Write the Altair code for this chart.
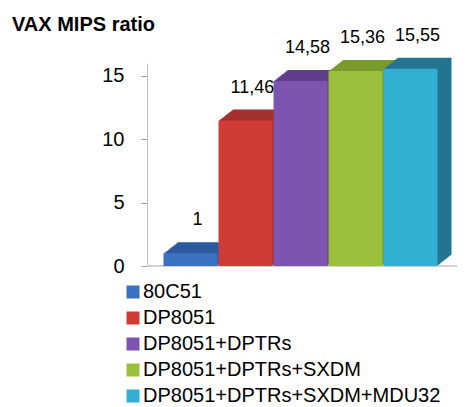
import altair as alt
import pandas as pd

categories = ["80C51", "DP8051", "DP8051+DPTRs", "DP8051+DPTRs+SXDM", "DP8051+DPTRs+SXDM+MDU32"]
values = [1, 11.46, 14.58, 15.36, 15.55]
value_labels = ["1", "11,46", "14,58", "15,36", "15,55"]
front_colors = ["#3b72c0", "#d13b36", "#7d55b0", "#9ac03c", "#33afd4"]
dark_colors = ["#2c5a9e", "#a3302c", "#5f3f8c", "#7a9a2e", "#237590"]

df = pd.DataFrame({
    "cat": categories,
    "val": values,
    "lab": value_labels,
    "dark": dark_colors,
})

FONT = "Liberation Sans"

xscale = alt.Scale(domain=categories, paddingInner=0.02, paddingOuter=0.3)
yscale = alt.Scale(domain=[0, 16])

base = alt.Chart(df)

layers = []
depth = 14
for k in range(depth, 0, -1):
    off_y = -k * 11.0 / depth
    layers.append(
        base.mark_bar(xOffset=k, x2Offset=k, yOffset=off_y, y2Offset=off_y).encode(
            x=alt.X("cat:N", scale=xscale, axis=None, sort=categories),
            y=alt.Y("val:Q", scale=yscale),
            color=alt.Color("dark:N", scale=None),
        )
    )

floor = base.mark_rule(color="#d0d0d0", strokeWidth=1).encode(
    y=alt.datum(0), x=alt.value(0), x2=alt.value(310)
)

front = base.mark_bar().encode(
    x=alt.X("cat:N", scale=xscale, axis=None, sort=categories),
    y=alt.Y(
        "val:Q",
        scale=yscale,
        title=None,
        axis=alt.Axis(
            values=[0, 5, 10, 15],
            grid=False,
            domainColor="#bfbfbf",
            tickColor="#a0a0a0",
            tickSize=6,
            labelPadding=17,
            labelFontSize=20,
            labelFont=FONT,
            labelColor="#000000",
        ),
    ),
    color=alt.Color(
        "cat:N",
        sort=categories,
        scale=alt.Scale(domain=categories, range=front_colors),
        legend=alt.Legend(
            title=None,
            orient="none",
            legendX=-24,
            legendY=219,
            symbolType="square",
            symbolSize=169,
            symbolStrokeWidth=0,
            labelFontSize=20,
            labelFont=FONT,
            labelColor="#000000",
            rowPadding=6,
            labelOffset=0,
            padding=0,
            labelLimit=400,
        ),
    ),
)

labels = base.mark_text(
    font=FONT, fontSize=18, color="#000000", dx=7, dy=-33, baseline="middle"
).encode(
    x=alt.X("cat:N", scale=xscale, axis=None, sort=categories),
    y=alt.Y("val:Q", scale=yscale),
    text="lab:N",
)

chart = alt.layer(floor, *layers, front, labels).properties(
    width=307,
    height=203,
    padding={"left": 4, "top": 6, "right": 0, "bottom": 0},
    title=alt.TitleParams(
        "VAX MIPS ratio",
        anchor="start",
        frame="group",
        dx=-135,
        offset=-8,
        fontSize=20,
        font=FONT,
        fontWeight="bold",
        color="#000000",
    ),
).configure_view(stroke=None)

chart.save("out.html", embed_options={"renderer": "svg", "actions": False})
